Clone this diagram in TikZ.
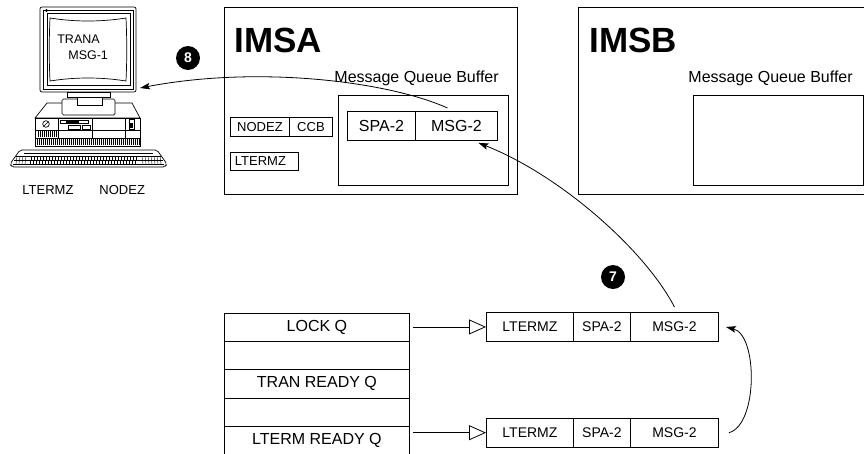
\documentclass[tikz,border=0pt]{standalone}
\usepackage{fontspec}
\setmainfont{Liberation Sans}
\usetikzlibrary{arrows.meta}
\begin{document}
\begin{tikzpicture}[x=1pt, y=-1pt, line width=0.9pt,
  box/.style={draw, inner sep=0pt, anchor=north west},
  fsmall/.style={font=\fontsize{13}{15}\selectfont},
  fmid/.style={font=\fontsize{14}{16}\selectfont},
  fbig/.style={font=\fontsize{16}{18}\selectfont},
  ftitle/.style={font=\bfseries\fontsize{35}{38}\selectfont},
  badge/.style={circle, fill=black, text=white, minimum size=24pt, inner sep=0pt,
                font=\bfseries\fontsize{14}{14}\selectfont},
  flow/.style={-{Stealth[length=10pt, width=6.5pt, inset=2pt]}, line width=0.8pt},
  qarrow/.style={-{Triangle[open, length=17pt, width=15pt]}, line width=0.8pt},
  thin/.style={line width=0.5pt}
]
\useasboundingbox (0,0) rectangle (864,453);

% ---------------- terminal ----------------
\begin{scope}[line width=0.7pt]
  % monitor
  \draw[rounded corners=2pt] (40,7) rectangle (136,92);
  \draw[thin] (43,10) rectangle (133,89);
  \draw (47,13) rectangle (130,85);
  \draw (50,18) .. controls (75,22) and (101,22) .. (126,18)
        .. controls (127,40) and (127,60) .. (126,81)
        .. controls (101,77) and (75,77) .. (50,81)
        .. controls (49,60) and (49,40) .. (50,18) -- cycle;
  \fill (46.5,10.5) circle (1.6pt);
  \node[anchor=base west, inner sep=0pt, font=\fontsize{12.5}{14}\selectfont] (trana) at (57,43) {TRANA};
  \node[anchor=base west, inner sep=0pt, font=\fontsize{12.5}{14}\selectfont] (msgone) at (68,59.5) {MSG-1};
  % system unit top face
  \draw[fill=white] (35,118) -- (47,103) -- (132,103) -- (140,118) -- cycle;
  % stand
  \draw[fill=white, rounded corners=1.5pt] (62,99) rectangle (115,115);
  \draw[fill=white] (77,92) rectangle (102,105);
  \draw[fill=white] (67,92) rectangle (110,97);
  % front face
  \draw[fill=white] (35,118) rectangle (140,146);
  \draw[thin] (35,130) -- (140,130);
  \draw[thin] (35,138) -- (140,138);
  \draw[thin] (58,118) -- (58,138);
  \draw[thin] (92,118) -- (92,138);
  \draw[thin] (125,118) -- (125,138);
  \draw (46,124) circle (3.3pt);
  \draw (43.5,126.5) -- (48.5,121.5);
  \draw[thin] (60,120) rectangle (88,123.5);
  \draw[thin, fill=black] (66,121) rectangle (78,122.5);
  \draw[thin] (68,125) rectangle (80,129);
  \draw[thin] (82,125) rectangle (90,129);
  \draw[thin] (129,119) rectangle (134,129);
  \fill (130,123) rectangle (133,128);
  \foreach \x in {38,40,...,56} \draw[line width=0.45pt] (\x,131) -- (\x,137);
  \foreach \x in {37,39,...,139} \draw[line width=0.45pt] (\x,139) -- (\x,145);
  % keyboard
  \draw[fill=white, rounded corners=2pt] (20,150) -- (157,150) -- (167,164) -- (165,167)
        -- (12,167) -- (10,164) -- cycle;
  \draw[thin] (24,153) -- (153,153);
  \draw[thin] (16,156) -- (161,156);
  \draw[thin] (14,160) -- (163,160);
  \draw[thin] (13,164) -- (164,164);
  \foreach \x in {17,20,...,27} \draw[line width=0.4pt] (\x,156) -- (\x-1,164);
  \foreach \x in {31,34,...,137} \draw[line width=0.4pt] (\x,156) -- (\x,160);
  \foreach \x in {30,33,...,136} \draw[line width=0.4pt] (\x,160) -- (\x,164);
  \foreach \x in {142,145,...,160} \draw[line width=0.4pt] (\x,156) -- (\x+1,164);
\end{scope}
\coordinate (mon) at (140,88);
\node[anchor=base west, inner sep=0pt, fsmall] (termlt) at (22,194) {LTERMZ};
\node[anchor=base west, inner sep=0pt, fsmall] (termnd) at (99,194) {NODEZ};

% ---------------- IMSA ----------------
\node[box, minimum width=293pt, minimum height=187pt] (imsa) at (224,7) {};
\node[anchor=base west, inner sep=0pt, ftitle] (imsatitle) at (234,52) {IMSA};
\node[anchor=base west, inner sep=0pt, fbig] (mqbA) at (334,82) {Message Queue Buffer};
\node[box, minimum width=170pt, minimum height=90pt] (bufA) at (338,95) {};
\node[box, minimum width=68pt, minimum height=29pt, fbig] (spaA) at (347,111) {SPA-2};
\node[box, minimum width=82pt, minimum height=29pt, fbig] (msgA) at (415,111) {MSG-2};
\node[box, minimum width=59pt, minimum height=19pt, fsmall] (nodez) at (230,117) {NODEZ};
\node[box, minimum width=43pt, minimum height=19pt, fsmall] (ccb) at (289,117) {CCB};
\node[box, minimum width=68pt, minimum height=18pt, fsmall] (ltermz) at (230,152) {\hspace*{-8pt}LTERMZ};

% ---------------- IMSB ----------------
\node[box, minimum width=300pt, minimum height=187pt] (imsb) at (578,7) {};
\node[anchor=base west, inner sep=0pt, ftitle] (imsbtitle) at (589,52) {IMSB};
\node[anchor=base west, inner sep=0pt, fbig] (mqbB) at (688,82) {Message Queue Buffer};
\node[box, minimum width=170pt, minimum height=90pt] (bufB) at (693,95) {};

% ---------------- queue table ----------------
\node[box, minimum width=185pt, minimum height=28.3pt, fbig] (t1) at (224,312.7) {LOCK Q};
\node[box, minimum width=185pt, minimum height=28.3pt] (t2) at (224,341.0) {};
\node[box, minimum width=185pt, minimum height=28.3pt, fbig] (t3) at (224,369.3) {TRAN READY Q};
\node[box, minimum width=185pt, minimum height=28.3pt] (t4) at (224,397.6) {};
\node[box, minimum width=185pt, minimum height=28.3pt, fbig] (t5) at (224,425.9) {LTERM READY Q};

% ---------------- queue entries ----------------
\node[box, minimum width=87pt, minimum height=29pt, fmid] (q1a) at (486,312) {LTERMZ};
\node[box, minimum width=57pt, minimum height=29pt, fmid] (q1b) at (573,312) {SPA-2};
\node[box, minimum width=88pt, minimum height=29pt, fmid] (q1c) at (630,312) {MSG-2};
\node[box, minimum width=87pt, minimum height=28.5pt, fmid] (q2a) at (486,418) {LTERMZ};
\node[box, minimum width=57pt, minimum height=28.5pt, fmid] (q2b) at (573,418) {SPA-2};
\node[box, minimum width=88pt, minimum height=28.5pt, fmid] (q2c) at (630,418) {MSG-2};

\draw[qarrow] ([xshift=3pt]t1.east |- q1a.west) -- (q1a.west);
\draw[qarrow] ([xshift=3pt]t5.east |- q2a.west) -- (q2a.west);

% ---------------- flow arrows ----------------
\draw[flow] ([xshift=-9pt, yshift=3pt]msgA.north)
      .. controls (390,82) and (260,65) .. (mon);
\draw[flow] ([yshift=5pt]q1c.north)
      .. controls (645,250) and (560,175) .. ([xshift=22pt, yshift=-2pt]msgA.south);
\draw[flow] ([xshift=10pt]q2c.east)
      .. controls (758,425) and (758,335) .. ([xshift=7pt]q1c.east);

% ---------------- step badges ----------------
\node[badge] (b8) at (188,58) {8};
\node[badge] (b7) at (613,277) {7};
\end{tikzpicture}
\end{document}
